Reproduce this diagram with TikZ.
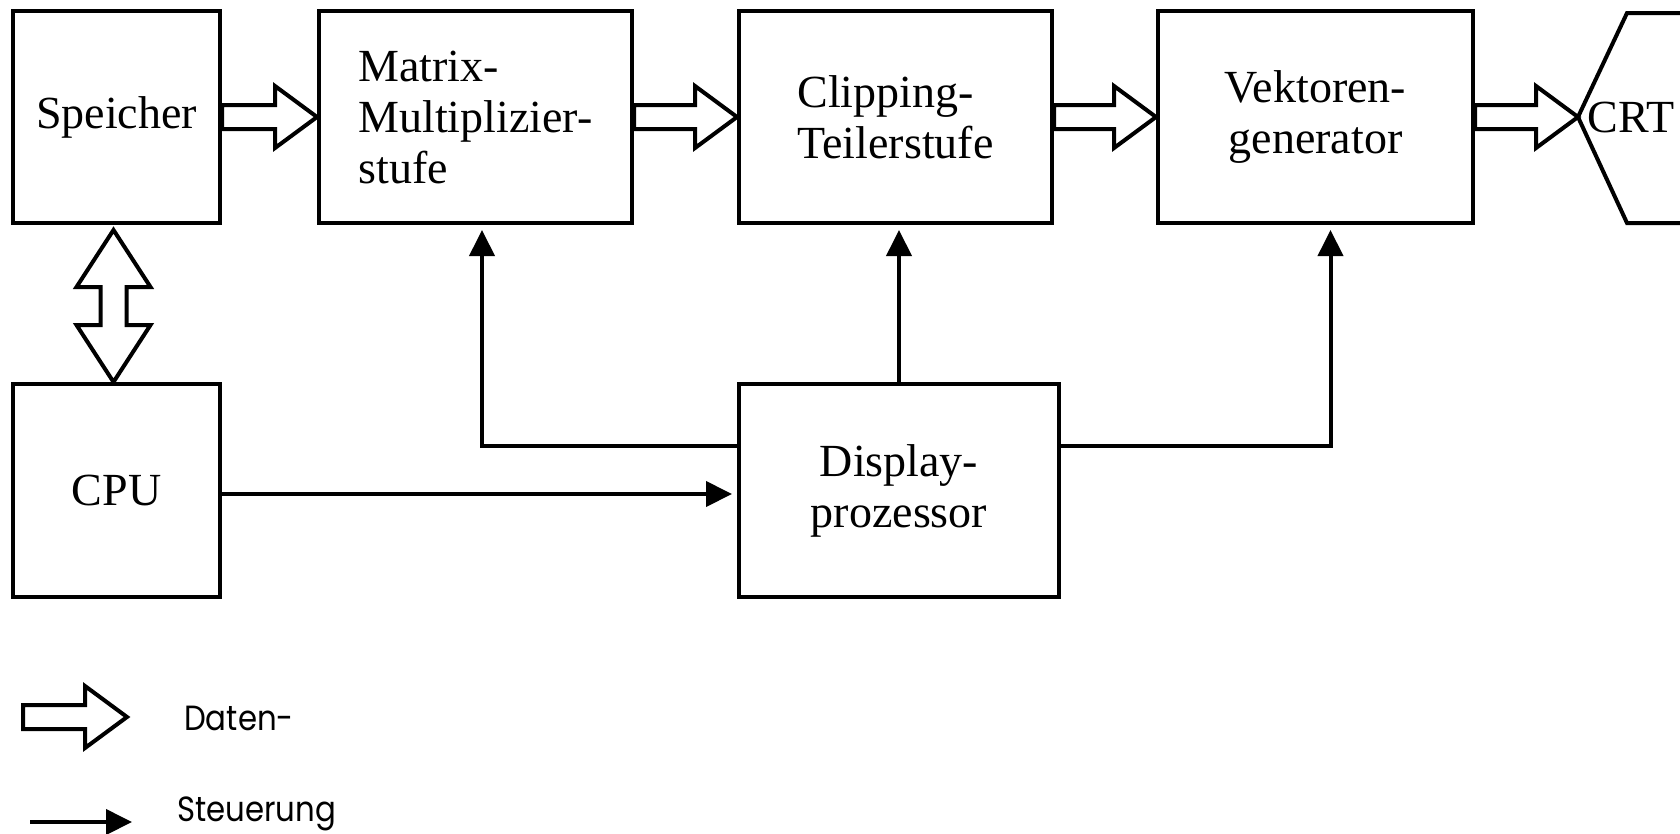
\documentclass[tikz,border=0pt]{standalone}
\usepackage{fontspec}
\setmainfont{Liberation Serif}
\newfontfamily\legendfont[FakeStretch=0.88]{Poppins}
\usepackage{tikz}
\usetikzlibrary{positioning,arrows.meta,calc}

\tikzset{
  block/.style={draw, line width=4pt, inner sep=0pt, minimum height=212pt,
    font=\fontsize{46}{51}\selectfont},
  legende/.style={inner sep=0pt, font=\legendfont\fontsize{35}{40}\selectfont},
  steuer/.style={line width=4pt, shorten >=5pt, -{Triangle[length=26pt,width=25pt]}},
  daten/.style={draw, line width=4pt, line join=miter,
    to path={let \p1=(\tikztostart), \p2=(\tikztotarget) in
      (\x1,\y1+12pt) -- (\x2-42pt,\y1+12pt) -- (\x2-42pt,\y1+31pt) -- (\x2,\y1)
      -- (\x2-42pt,\y1-31pt) -- (\x2-42pt,\y1-12pt) -- (\x1,\y1-12pt) -- cycle}},
  doppel/.style={draw, line width=4pt, line join=miter,
    to path={let \p1=(\tikztostart), \p2=(\tikztotarget) in
      (\x1,\y1) -- (\x1+37pt,\y1-57pt) -- (\x1+13pt,\y1-57pt) -- (\x1+13pt,\y2+57pt)
      -- (\x1+37pt,\y2+57pt) -- (\x1,\y2) -- (\x1-37pt,\y2+57pt) -- (\x1-13pt,\y2+57pt)
      -- (\x1-13pt,\y1-57pt) -- (\x1-37pt,\y1-57pt) -- cycle}}
}

\begin{document}
\begin{tikzpicture}[x=1pt,y=-1pt]
  \useasboundingbox (0,0) rectangle (1680,833);

  \node[block, minimum width=207pt] (spei) at (116.5,117) {Speicher};
  \node[block, minimum width=313pt, align=left] (matr) at (475.5,117) {Matrix-\\Multiplizier-\\stufe};
  \node[block, minimum width=313pt, align=left] (clip) at (895.5,117) {Clipping-\\Teilerstufe};
  \node[block, minimum width=315pt, align=center] (vekt) at (1315.5,117) {Vektoren-\\generator};
  \node[block, minimum width=207pt, minimum height=213pt] (cpu) at (116.5,490.5) {CPU};
  \node[block, minimum width=320pt, minimum height=213pt, align=center] (disp) at (899,490.5) {Display-\\prozessor};

  \coordinate (crtspitze) at (1578,117);
  \draw[line width=4pt, line join=miter] (1690,13) -- (1627,13) -- (crtspitze) -- (1627,223) -- (1690,223);
  \node[inner sep=0pt, font=\fontsize{46}{51}\selectfont] (crt) at (1631,117) {CRT};

  \draw[daten] (spei.east) to (matr.west);
  \draw[daten] (matr.east) to (clip.west);
  \draw[daten] (clip.east) to (vekt.west);
  \draw[daten] (vekt.east) to (crtspitze);
  \draw[doppel] ([xshift=-3pt,yshift=-5pt]spei.south) to (cpu.north);

  \draw[steuer] ([yshift=-3.5pt]cpu.east) -- ([yshift=-3.5pt]disp.west);
  \draw[steuer] ([yshift=44.5pt]disp.west) -| ([xshift=6.5pt]matr.south);
  \draw[steuer] (disp.north) -- (disp.north |- clip.south);
  \draw[steuer] ([yshift=44.5pt]disp.east) -| ([xshift=15pt]vekt.south);

  \coordinate (ldA) at (23,717);
  \coordinate (ldB) at (127,717);
  \draw[daten] (ldA) to (ldB);
  \node[legende, anchor=base west] (ldaten) at (184,730) {Daten-};
  \coordinate (lsA) at (30,822);
  \coordinate (lsB) at (137,822);
  \draw[steuer] (lsA) -- (lsB);
  \node[legende, anchor=base west] (lsteuer) at (177,821) {Steuerung};
\end{tikzpicture}
\end{document}
